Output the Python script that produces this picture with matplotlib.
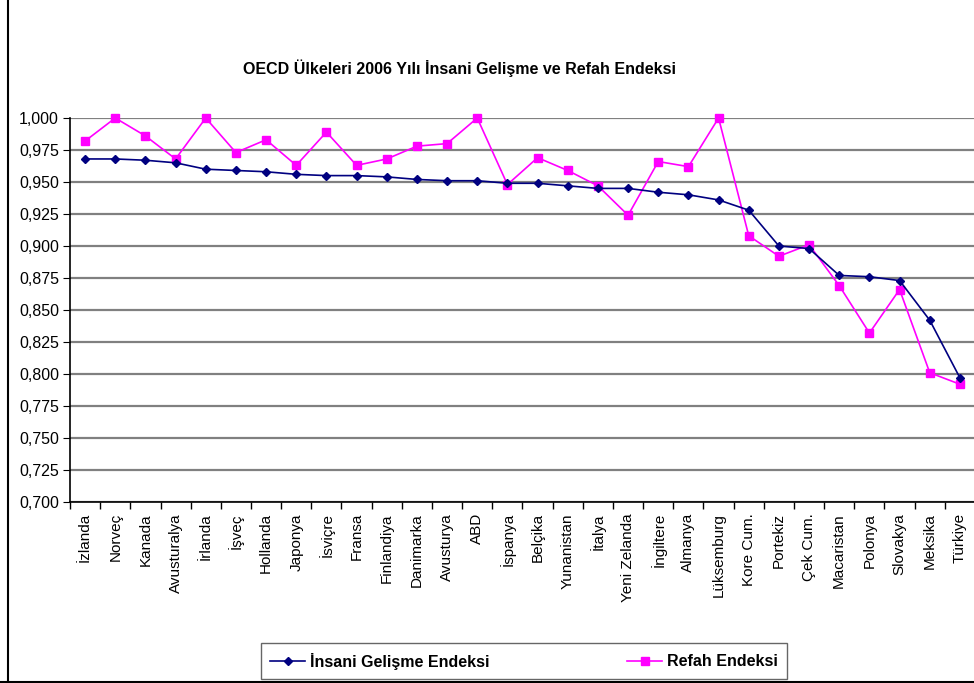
import numpy as np
import matplotlib.pyplot as plt
from matplotlib.lines import Line2D
from matplotlib.ticker import FixedLocator, FuncFormatter

plt.rcParams['font.family'] = ['Liberation Sans', 'DejaVu Sans']

countries = ["İzlanda", "Norveç", "Kanada", "Avusturalya", "İrlanda", "İşveç",
             "Hollanda", "Japonya", "İsviçre", "Fransa", "Finlandiya", "Danimarka",
             "Avusturya", "ABD", "İspanya", "Belçika", "Yunanistan", "İtalya",
             "Yeni Zelanda", "İngiltere", "Almanya", "Lüksemburg", "Kore Cum.",
             "Portekiz", "Çek Cum.", "Macaristan", "Polonya", "Slovakya",
             "Meksika", "Türkiye"]

hdi = [0.968, 0.968, 0.967, 0.965, 0.960, 0.959, 0.958, 0.956, 0.955, 0.955,
       0.954, 0.952, 0.951, 0.951, 0.949, 0.949, 0.947, 0.945, 0.945, 0.942,
       0.940, 0.936, 0.928, 0.900, 0.898, 0.877, 0.876, 0.873, 0.842, 0.797]

refah = [0.982, 1.000, 0.986, 0.968, 1.000, 0.973, 0.983, 0.963, 0.989, 0.963,
         0.968, 0.978, 0.980, 1.000, 0.948, 0.969, 0.959, 0.947, 0.924, 0.966,
         0.962, 1.000, 0.908, 0.892, 0.901, 0.869, 0.832, 0.866, 0.801, 0.792]

W, H = 974, 683
fig = plt.figure(figsize=(W / 100, H / 100), dpi=100)
ax = fig.add_axes([70 / W, 1 - 502 / H, (975 - 70) / W, (502 - 118) / H])

x = np.arange(len(countries)) + 0.5
ax.plot(x, hdi, color='#000080', marker='D', markersize=4.5, linewidth=1.2,
        clip_on=False, zorder=4)
ax.plot(x, refah, color='#FF00FF', marker='s', markersize=5.5, linewidth=1.2,
        clip_on=False, zorder=3)

ax.set_xlim(0, len(countries))
ax.set_ylim(0.7, 1.0)
yt = np.arange(0.700, 1.0001, 0.025)
ax.set_yticks(yt)
ax.yaxis.set_major_formatter(FuncFormatter(lambda v, p: f"{v:.3f}".replace('.', ',')))
ax.yaxis.grid(True, color='#808080', linewidth=1.6)
ax.set_axisbelow(True)

ax.set_xticks(x)
ax.set_xticklabels(countries, rotation=90, fontsize=11)
ax.xaxis.set_minor_locator(FixedLocator(np.arange(0, len(countries) + 1)))
ax.tick_params(axis='x', which='major', length=0, pad=8)
ax.tick_params(axis='x', which='minor', length=5, direction='out', width=1)
ax.tick_params(axis='y', length=5, direction='out', labelsize=11.5, pad=3)

for s in ['top', 'right']:
    ax.spines[s].set_visible(False)
ax.spines['left'].set_linewidth(1.2)
ax.spines['bottom'].set_linewidth(1.2)

fig.text(0.472, 1 - 68 / H, "OECD Ülkeleri 2006 Yılı İnsani Gelişme ve Refah Endeksi",
         ha='center', va='center', fontsize=11.5, fontweight='bold')

handles = [Line2D([], [], color='#000080', marker='D', markersize=4.5, linewidth=1.2),
           Line2D([], [], color='#FF00FF', marker='s', markersize=5.5, linewidth=1.2)]
leg = fig.legend(handles, ["İnsani Gelişme Endeksi", "Refah Endeksi"],
                 loc='center', bbox_to_anchor=(524 / W, 1 - 661 / H), ncol=2,
                 frameon=True, fancybox=False, edgecolor='#404040',
                 prop={'weight': 'bold', 'size': 11.5}, handlelength=2.2,
                 handletextpad=0.3, columnspacing=8.6, borderpad=0.6)
leg.get_frame().set_linewidth(1.0)

# chart area border (left and bottom visible)
fig.add_artist(Line2D([7.5 / W, 7.5 / W], [0, 1], color='black', linewidth=1.5))
fig.add_artist(Line2D([0, 1], [1.5 / H, 1.5 / H], color='black', linewidth=1.5))

fig.savefig("out.png", dpi=100)
